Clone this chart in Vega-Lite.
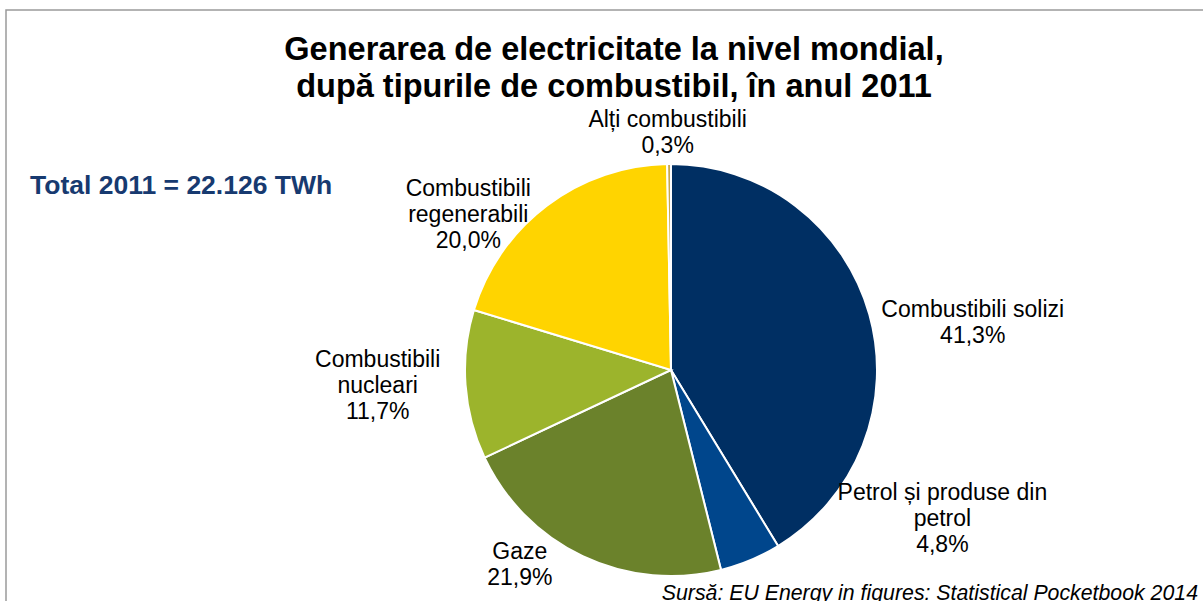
{
  "$schema": "https://vega.github.io/schema/vega-lite/v6.json",
  "width": 1203,
  "height": 601,
  "autosize": {"type": "fit", "contains": "padding"},
  "padding": {"left": 6, "top": 10, "right": -5, "bottom": -5},
  "background": "white",
  "view": {"stroke": "#9a9a9a", "strokeWidth": 1.5},
  "config": {
    "view": {"stroke": "#9a9a9a", "strokeWidth": 1.5},
    "font": "Liberation Sans"
  },
  "data": {
    "values": [
      {"ordine": 1, "tip": "Combustibili solizi", "eticheta": "Combustibili solizi", "procent": 41.3},
      {"ordine": 2, "tip": "Petrol și produse din petrol", "eticheta": "Petrol și produse din\npetrol", "procent": 4.8},
      {"ordine": 3, "tip": "Gaze", "eticheta": "Gaze", "procent": 21.9},
      {"ordine": 4, "tip": "Combustibili nucleari", "eticheta": "Combustibili\nnucleari", "procent": 11.7},
      {"ordine": 5, "tip": "Combustibili regenerabili", "eticheta": "Combustibili\nregenerabili", "procent": 20.0},
      {"ordine": 6, "tip": "Alți combustibili", "eticheta": "Alți combustibili", "procent": 0.3}
    ]
  },
  "transform": [
    {"calculate": "datum.eticheta + '\\n' + replace(format(datum.procent, '.1f'), '.', ',') + '%'", "as": "text_eticheta"}
  ],
  "layer": [
    {
      "mark": {"type": "arc", "outerRadius": 206, "x": 665, "y": 360, "stroke": "white", "strokeWidth": 2},
      "encoding": {
        "theta": {"field": "procent", "type": "quantitative", "stack": true},
        "order": {"field": "ordine", "type": "quantitative"},
        "color": {
          "field": "tip",
          "type": "nominal",
          "legend": null,
          "scale": {
            "domain": ["Combustibili solizi", "Petrol și produse din petrol", "Gaze", "Combustibili nucleari", "Combustibili regenerabili", "Alți combustibili"],
            "range": ["#002F63", "#00468C", "#6B822B", "#9CB42C", "#FFD400", "#C8A84B"]
          }
        }
      }
    },
    {
      "mark": {
        "type": "text",
        "radius": 250,
        "x": 665,
        "y": 360,
        "fontSize": 23,
        "lineHeight": 26,
        "lineBreak": "\n",
        "align": "center",
        "baseline": "middle",
        "color": "#000000",
        "dx": {"expr": "[61, 175, -44, -44, -52, -1][datum.ordine - 1]"},
        "dy": {"expr": "[7, -108, -44, -28, 18, 0][datum.ordine - 1]"}
      },
      "encoding": {
        "theta": {"field": "procent", "type": "quantitative", "stack": true},
        "order": {"field": "ordine", "type": "quantitative"},
        "text": {"field": "text_eticheta", "type": "nominal"}
      }
    },
    {
      "data": {"values": [{"t": "titlu"}]},
      "mark": {
        "type": "text",
        "text": ["Generarea de electricitate la nivel mondial,", "după tipurile de combustibil, în anul 2011"],
        "x": 608,
        "y": 50,
        "fontSize": 32.5,
        "fontWeight": "bold",
        "lineHeight": 37,
        "align": "center",
        "baseline": "alphabetic",
        "color": "#000000"
      },
      "encoding": {}
    },
    {
      "data": {"values": [{"t": "total"}]},
      "mark": {
        "type": "text",
        "text": "Total 2011 = 22.126 TWh",
        "x": 24,
        "y": 184,
        "fontSize": 26.5,
        "fontWeight": "bold",
        "align": "left",
        "baseline": "alphabetic",
        "color": "#173A70"
      },
      "encoding": {}
    },
    {
      "data": {"values": [{"t": "sursa"}]},
      "mark": {
        "type": "text",
        "text": "Sursă: EU Energy in figures: Statistical Pocketbook 2014",
        "x": 1192,
        "y": 589.5,
        "fontSize": 21.3,
        "fontStyle": "italic",
        "align": "right",
        "baseline": "alphabetic",
        "color": "#000000"
      },
      "encoding": {}
    }
  ]
}
